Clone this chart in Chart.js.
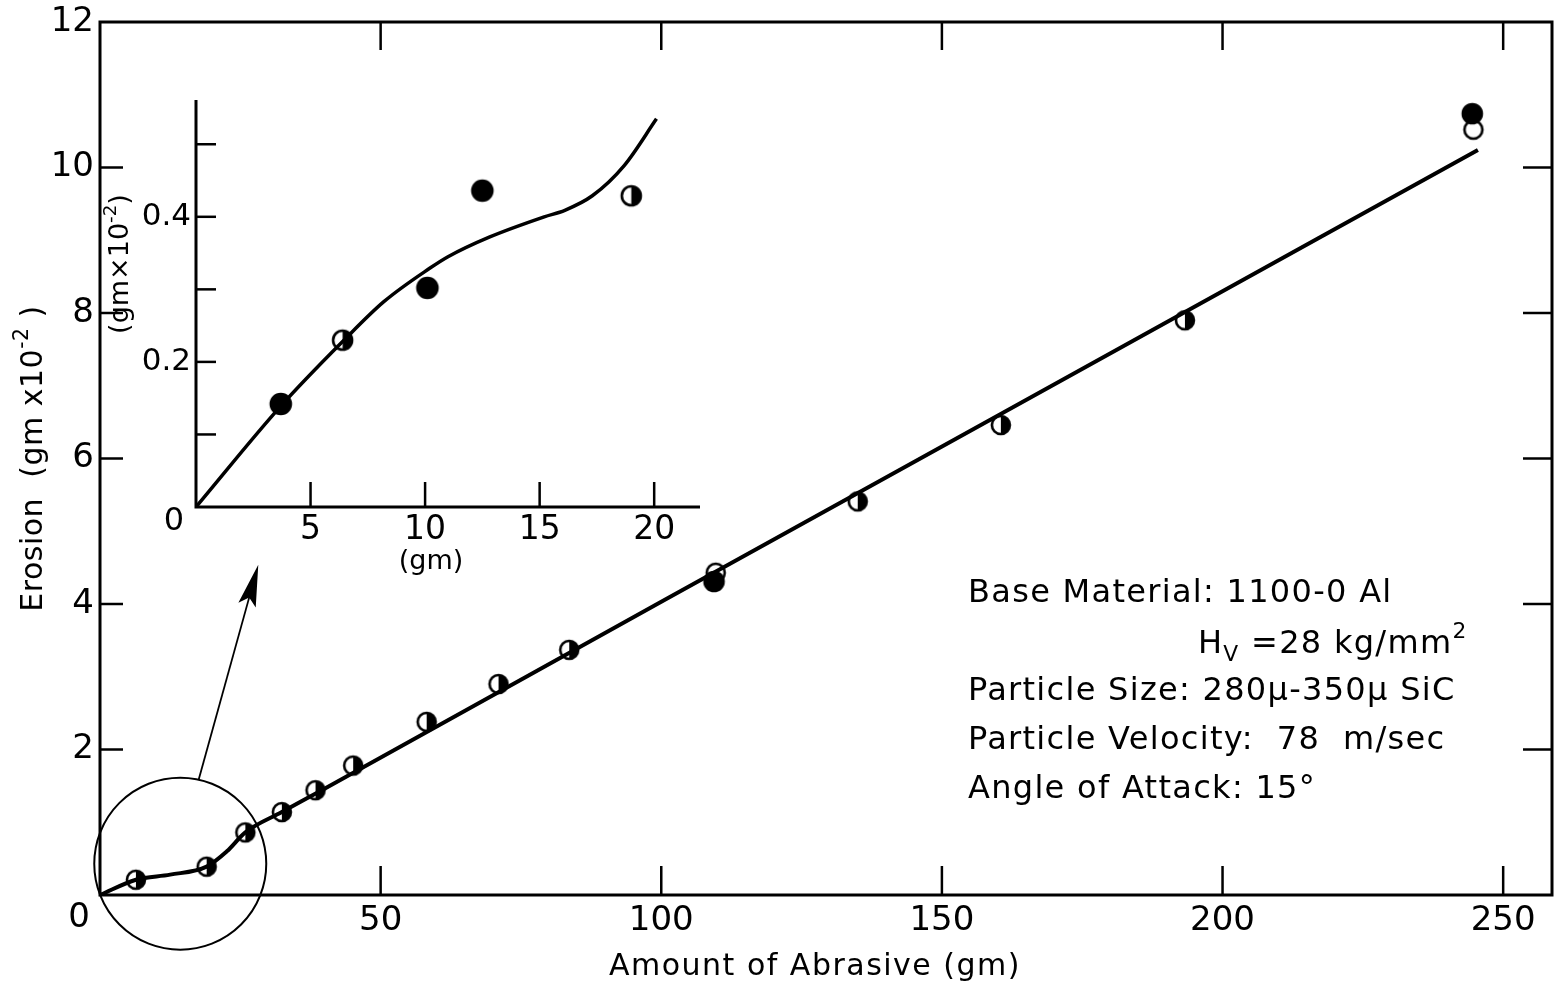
<!DOCTYPE html>
<html>
<head>
<meta charset="utf-8">
<script src="https://cdn.jsdelivr.net/npm/chart.js@4/dist/chart.umd.min.js"></script>
<style>
  html, body { margin: 0; padding: 0; background: #fff; }
  #wrap { position: relative; width: 1555px; height: 989px; }
  #wrap canvas { position: absolute; left: 0; top: 0; }
</style>
</head>
<body>
<div id="wrap">
  <canvas id="main-chart" width="1555" height="989"></canvas>
  <canvas id="inset-chart" width="1555" height="989"></canvas>
</div>
<script>
// --- DATA ---
// main plot: amount of abrasive (gm) vs erosion (gm x 10^-2)
const curveX = [0, 6.4, 12.5, 19.0, 22.6, 25.9, 32.4, 40, 100, 160, 245.5];
const curveY = [0, 0.21, 0.28, 0.39, 0.60, 0.86, 1.14, 1.46, 4.03, 6.59, 10.24];
const halfX = [6.4, 19.0, 25.9, 32.4, 38.4, 45.1, 58.2, 71.0, 83.6, 135.0, 160.5, 193.3];
const halfY = [0.21, 0.39, 0.86, 1.14, 1.44, 1.78, 2.38, 2.90, 3.37, 5.41, 6.46, 7.90];
const filledX = [109.4, 244.5];
const filledY = [4.31, 10.74];
const openX = [109.7, 244.7];
const openY = [4.43, 10.52];
const mainTicksX = [50, 100, 150, 200, 250];
const mainTicksY = [2, 4, 6, 8, 10];

// inset: first 20 gm
const insetCurveX = [0, 3.7, 6.4, 8.2, 10.2, 11.0, 12.8, 15.2, 16.1, 17.3, 18.7, 20.1];
const insetCurveY = [0, 0.139, 0.228, 0.283, 0.329, 0.345, 0.372, 0.400, 0.409, 0.429, 0.471, 0.535];
const insetFilledX = [3.7, 10.1, 12.5];
const insetFilledY = [0.142, 0.302, 0.436];
const insetHalfX = [6.4, 19.0];
const insetHalfY = [0.230, 0.429];
const insetTicksX = [5, 10, 15, 20];
const insetTicksY = [0.1, 0.2, 0.3, 0.4, 0.5];

const FONT = "'DejaVu Sans', sans-serif";

// --- helpers ---
const zip = (xs, ys) => xs.map((x, i) => ({ x, y: ys[i] }));

function makeMarker(kind, r) {
    const c = document.createElement('canvas');
    const s = Math.ceil(r * 2 + 6);
    c.width = s; c.height = s;
    const g = c.getContext('2d');
    const m = s / 2;
    g.beginPath(); g.arc(m, m, r, 0, Math.PI * 2);
    g.fillStyle = kind === 'filled' ? '#000' : '#fff';
    g.fill();
    if (kind === 'half') {
        // right half black, left half white
        g.beginPath(); g.arc(m, m, r, -Math.PI / 2, Math.PI / 2); g.closePath();
        g.fillStyle = '#000'; g.fill();
    }
    g.beginPath(); g.arc(m, m, r, 0, Math.PI * 2);
    g.lineWidth = 2.6; g.strokeStyle = '#000'; g.stroke();
    return c;
}

// draws a run of text pieces, some raised or lowered
function drawRich(ctx, parts, x, y, size, spacing) {
    ctx.save();
    ctx.fillStyle = '#000';
    ctx.textBaseline = 'middle';
    ctx.textAlign = 'left';
    ctx.letterSpacing = (spacing || 0) + 'px';
    let cx = x;
    parts.forEach(p => {
        const s = p.sup || p.sub ? size * 0.68 : size;
        const dy = p.sup ? -size * 0.38 : p.sub ? size * 0.32 : 0;
        ctx.font = `${s}px ${FONT}`;
        ctx.fillText(p.t, cx, y + dy);
        cx += ctx.measureText(p.t).width;
    });
    ctx.restore();
    return cx - x;
}

function richWidth(ctx, parts, size, spacing) {
    ctx.save();
    ctx.letterSpacing = (spacing || 0) + 'px';
    let w = 0;
    parts.forEach(p => {
        const s = p.sup || p.sub ? size * 0.68 : size;
        ctx.font = `${s}px ${FONT}`;
        w += ctx.measureText(p.t).width;
    });
    ctx.restore();
    return w;
}

function inwardTicks(ctx, scale, values, from, len) {
    values.forEach(v => {
        const p = scale.getPixelForValue(v);
        ctx.beginPath();
        if (scale.isHorizontal()) { ctx.moveTo(p, from); ctx.lineTo(p, from + len); }
        else { ctx.moveTo(from, p); ctx.lineTo(from + len, p); }
        ctx.stroke();
    });
}

// fixed axis sizes, no label overhang padding
const fixHeight = h => s => { s.height = h; s.paddingLeft = 0; s.paddingRight = 0; };
const fixWidth = w => s => { s.width = w; s.paddingTop = 0; s.paddingBottom = 0; };

const halfMarker = makeMarker('half', 9);
const filledMarker = makeMarker('filled', 9.5);
const openMarker = makeMarker('open', 9);
const insetHalfMarker = makeMarker('half', 9.5);
const insetFilledMarker = makeMarker('filled', 10);

// --- MAIN CHART ---
const mainDecor = {
    id: 'mainDecor',
    beforeDatasetsDraw(chart) {
        const { ctx, chartArea: a, scales: { x, y } } = chart;
        ctx.save();
        ctx.strokeStyle = '#000';
        ctx.lineWidth = 3;
        ctx.strokeRect(a.left, a.top, a.right - a.left, a.bottom - a.top);
        ctx.lineWidth = 2.5;
        inwardTicks(ctx, x, mainTicksX, a.bottom, -29);
        inwardTicks(ctx, x, mainTicksX, a.top, 28);
        inwardTicks(ctx, y, mainTicksY, a.left, 23);
        inwardTicks(ctx, y, mainTicksY, a.right, -29);
        ctx.restore();
    },
    afterDatasetsDraw(chart) {
        const { ctx, chartArea: a, scales: { x, y } } = chart;
        ctx.save();
        // magnifier circle around the origin and arrow to the inset
        const cx = x.getPixelForValue(14.3), cy = y.getPixelForValue(0.43);
        ctx.strokeStyle = '#000';
        ctx.lineWidth = 2;
        ctx.beginPath(); ctx.arc(cx, cy, 86, 0, Math.PI * 2); ctx.stroke();
        const x0 = x.getPixelForValue(17.6), y0 = y.getPixelForValue(1.59);
        const x1 = x.getPixelForValue(28.2), y1 = y.getPixelForValue(4.54);
        const ang = Math.atan2(y1 - y0, x1 - x0);
        ctx.lineWidth = 1.8;
        ctx.beginPath(); ctx.moveTo(x0, y0); ctx.lineTo(x1 - 30 * Math.cos(ang), y1 - 30 * Math.sin(ang)); ctx.stroke();
        ctx.beginPath();
        ctx.moveTo(x1, y1);
        ctx.lineTo(x1 - 42 * Math.cos(ang) - 9 * Math.sin(ang), y1 - 42 * Math.sin(ang) + 9 * Math.cos(ang));
        ctx.lineTo(x1 - 34 * Math.cos(ang), y1 - 34 * Math.sin(ang));
        ctx.lineTo(x1 - 42 * Math.cos(ang) + 9 * Math.sin(ang), y1 - 42 * Math.sin(ang) - 9 * Math.cos(ang));
        ctx.closePath();
        ctx.fillStyle = '#000'; ctx.fill();

        // corner zero
        ctx.fillStyle = '#000';
        ctx.font = `34px ${FONT}`;
        ctx.textAlign = 'center'; ctx.textBaseline = 'middle';
        ctx.fillText('0', a.left - 21, a.bottom + 23);

        // axis titles
        ctx.font = `30px ${FONT}`;
        ctx.letterSpacing = '1.5px';
        ctx.fillText('Amount of Abrasive (gm)', 815, 967);
        ctx.letterSpacing = '0px';
        const yTitle = [{ t: 'Erosion  (gm x10' }, { t: '-2', sup: true }, { t: ' )' }];
        const w = richWidth(ctx, yTitle, 30, 0.5);
        ctx.translate(34, (a.top + a.bottom) / 2);
        ctx.rotate(-Math.PI / 2);
        drawRich(ctx, yTitle, -w / 2, 0, 30, 0.5);
        ctx.restore();

        // test conditions
        const lines = [
            { x: 968, y: 594, parts: [{ t: 'Base Material: 1100-0 Al' }] },
            { x: 1198, y: 645, parts: [{ t: 'H' }, { t: 'V', sub: true }, { t: ' =28 kg/mm' }, { t: '2', sup: true }] },
            { x: 968, y: 692, parts: [{ t: 'Particle Size: 280\u03bc-350\u03bc SiC' }] },
            { x: 968, y: 741, parts: [{ t: 'Particle Velocity:  78  m/sec' }] },
            { x: 968, y: 790, parts: [{ t: 'Angle of Attack: 15\u00b0' }] }
        ];
        lines.forEach(l => drawRich(ctx, l.parts, l.x, l.y, 32, 1.3));
    }
};

new Chart(document.getElementById('main-chart'), {
    type: 'scatter',
    data: {
        datasets: [
            {
                data: zip(curveX, curveY), showLine: true, borderColor: '#000', borderWidth: 4,
                pointRadius: 0, cubicInterpolationMode: 'monotone', fill: false
            },
            { data: zip(filledX, filledY), pointStyle: filledMarker, pointRadius: 10 },
            { data: zip(openX, openY), pointStyle: openMarker, pointRadius: 10 },
            { data: zip(halfX, halfY), pointStyle: halfMarker, pointRadius: 10 }
        ]
    },
    options: {
        responsive: false,
        animation: false,
        events: [],
        layout: { autoPadding: false, padding: { top: 22, right: 3, left: 0, bottom: 0 } },
        plugins: { legend: { display: false }, tooltip: { enabled: false } },
        scales: {
            x: {
                type: 'linear', min: 0, max: 258.7,
                afterFit: fixHeight(94),
                grid: { display: false, drawTicks: false },
                border: { display: false },
                ticks: {
                    stepSize: 50, includeBounds: false, padding: 6, color: '#000',
                    font: { family: FONT, size: 34 }, maxRotation: 0, autoSkip: false,
                    callback: v => (v > 0 && v % 50 === 0 ? v : '')
                }
            },
            y: {
                type: 'linear', min: 0, max: 12,
                afterFit: fixWidth(100),
                grid: { display: false, drawTicks: false },
                border: { display: false },
                ticks: {
                    stepSize: 2, padding: 6, color: '#000', font: { family: FONT, size: 34 },
                    callback: v => (v > 0 && v % 2 === 0 ? v : '')
                }
            }
        }
    },
    plugins: [mainDecor]
});

// --- INSET CHART ---
const insetDecor = {
    id: 'insetDecor',
    beforeDatasetsDraw(chart) {
        const { ctx, chartArea: a, scales: { x, y } } = chart;
        ctx.save();
        ctx.strokeStyle = '#000';
        ctx.lineWidth = 3;
        ctx.beginPath();
        ctx.moveTo(a.left, a.top); ctx.lineTo(a.left, a.bottom); ctx.lineTo(a.right, a.bottom);
        ctx.stroke();
        ctx.lineWidth = 2.5;
        inwardTicks(ctx, x, insetTicksX, a.bottom, -25);
        inwardTicks(ctx, y, insetTicksY, a.left, 20);
        ctx.restore();
    },
    afterDatasetsDraw(chart) {
        const { ctx, chartArea: a } = chart;
        ctx.save();
        ctx.fillStyle = '#000';
        ctx.textAlign = 'center'; ctx.textBaseline = 'middle';
        ctx.font = `32px ${FONT}`;
        ctx.fillText('0', a.left - 22, a.bottom + 15);
        ctx.font = `27px ${FONT}`;
        ctx.fillText('(gm)', 431, 562);
        const t = [{ t: '(gm\u00d710' }, { t: '-2', sup: true }, { t: ')' }];
        const w = richWidth(ctx, t, 27, 0);
        ctx.translate(121, 264);
        ctx.rotate(-Math.PI / 2);
        drawRich(ctx, t, -w / 2, 0, 27, 0);
        ctx.restore();
    }
};

new Chart(document.getElementById('inset-chart'), {
    type: 'scatter',
    data: {
        datasets: [
            {
                data: zip(insetCurveX, insetCurveY), showLine: true, borderColor: '#000', borderWidth: 3.5,
                pointRadius: 0, cubicInterpolationMode: 'monotone', fill: false
            },
            { data: zip(insetFilledX, insetFilledY), pointStyle: insetFilledMarker, pointRadius: 10 },
            { data: zip(insetHalfX, insetHalfY), pointStyle: insetHalfMarker, pointRadius: 10 }
        ]
    },
    options: {
        responsive: false,
        animation: false,
        events: [],
        layout: { autoPadding: false, padding: { top: 100, right: 855, left: 0, bottom: 0 } },
        plugins: { legend: { display: false }, tooltip: { enabled: false } },
        scales: {
            x: {
                type: 'linear', min: 0, max: 22,
                afterFit: fixHeight(482),
                grid: { display: false, drawTicks: false },
                border: { display: false },
                ticks: {
                    stepSize: 5, includeBounds: false, padding: 4, color: '#000',
                    font: { family: FONT, size: 33 }, maxRotation: 0, autoSkip: false,
                    callback: v => (v > 0 && v % 5 === 0 ? v : '')
                }
            },
            y: {
                type: 'linear', min: 0, max: 0.561,
                afterFit: fixWidth(196),
                grid: { display: false, drawTicks: false },
                border: { display: false },
                ticks: {
                    stepSize: 0.1, includeBounds: false, padding: 5, color: '#000',
                    font: { family: FONT, size: 31 }, autoSkip: false,
                    callback: v => (Math.abs(v - 0.2) < 1e-6 || Math.abs(v - 0.4) < 1e-6 ? v.toFixed(1) : '')
                }
            }
        }
    },
    plugins: [insetDecor]
});
</script>
</body>
</html>
